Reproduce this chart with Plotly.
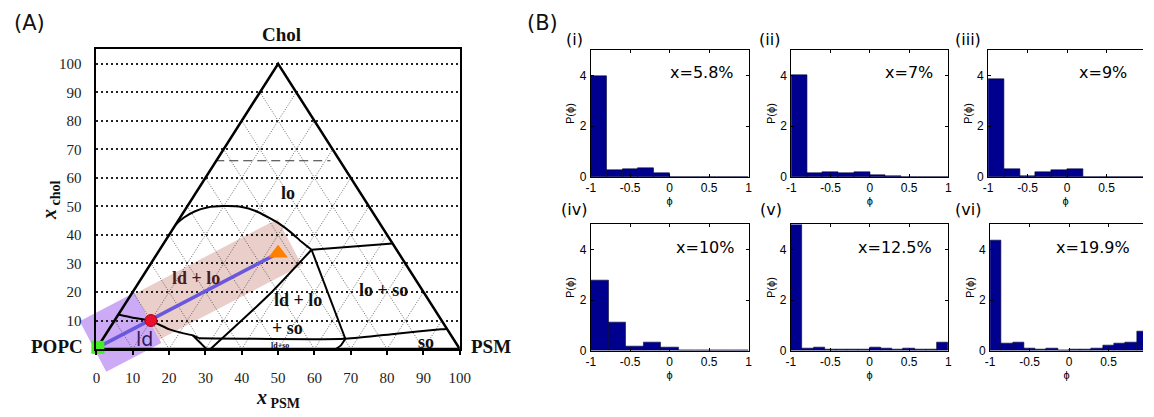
import numpy as np
import plotly.graph_objects as go

W, H = 1154, 417

# ---------------- (B) histogram data ----------------
panel_tags = ["(i)", "(ii)", "(iii)", "(iv)", "(v)", "(vi)"]
conc_labels = ["x=5.8%", "x=7%", "x=9%", "x=10%", "x=12.5%", "x=19.9%"]
bin_counts = [10, 10, 10, 9, 14, 14]
p_i = [3.98, 0.26, 0.30, 0.34, 0.17, 0, 0, 0, 0, 0]
p_ii = [4.03, 0.17, 0.21, 0.17, 0.20, 0.07, 0.04, 0, 0, 0]
p_iii = [3.84, 0.30, 0.03, 0.20, 0.26, 0.30, 0, 0, 0, 0]
p_iv = [2.77, 1.10, 0.17, 0.34, 0.13, 0, 0, 0, 0]
p_v = [5.40, 0.08, 0.12, 0.05, 0.05, 0.05, 0.06, 0.12, 0.08, 0.04, 0.08, 0.04, 0.06, 0.33]
p_vi = [4.36, 0.29, 0.33, 0.09, 0.04, 0.10, 0.01, 0.03, 0.04, 0.09, 0.22, 0.29, 0.33, 0.76]
hist_heights = [p_i, p_ii, p_iii, p_iv, p_v, p_vi]
phi_ticks = [-1, -0.5, 0, 0.5, 1]
phi_ticktext = ["-1", "-0.5", "0", "0.5", "1"]
prob_ticks = [0, 2, 4]
prob_range = [0, 5]

# ---------------- (A) phase diagram data ----------------
psm_ticks = [0, 10, 20, 30, 40, 50, 60, 70, 80, 90, 100]
chol_ticks = [10, 20, 30, 40, 50, 60, 70, 80, 90, 100]
grid_levels = [10, 20, 30, 40, 50, 60, 70, 80, 90]
tri_x = [0, 50, 100, 0]
tri_y = [0, 100, 0, 0]
dome_x = [21.8, 24.0, 27.0, 30.5, 35.0, 40.0, 44.0, 47.2, 50.5, 53.6, 56.5, 59.2]
dome_y = [43.6, 46.0, 48.2, 49.6, 50.1, 49.8, 48.3, 46.2, 43.8, 40.8, 37.5, 34.8]
loso_x = [59.2, 81.5]
loso_y = [34.8, 37.0]
mid_x = [59.2, 68.5]
mid_y = [34.8, 3.6]
diag_x = [59.2, 47.5, 31.4]
diag_y = [34.8, 19.0, 0.0]
ld_x = [6.05, 10.0, 15.0, 20.1, 24.0, 26.5, 28.2]
ld_y = [12.1, 11.0, 9.8, 6.9, 5.5, 4.8, 3.8]
so_x = [28.2, 68.5, 82.5, 94.8, 96.5]
so_y = [3.8, 3.6, 5.4, 6.9, 7.0]
ldso_x = [26.5, 30.3]
ldso_y = [4.8, 0.0]
so2_x = [68.5, 67.2, 65.8]
so2_y = [3.6, 1.2, 0.0]
dash_x = [32.7, 64.4]
dash_y = [66.0, 66.0]
popc_pt = [0.4, 0.6]
mix_pt = [15.0, 10.0]
lo_pt = [50.0, 33.6]
phase_labels = ["lo", "ld + lo", "ld + lo", "+ so", "lo + so", "so", "ld+so"]
phase_lx = [52.7, 27.3, 55.4, 52.7, 78.9, 90.7, 50.4]
phase_ly = [54.6, 24.8, 17.2, 7.5, 20.7, 2.3, 1.1]

# ---------------- geometry / layout helpers ----------------
TX0, TX1 = 92.7, 461.2     # ternary plot left/right px
TY0, TY1 = 355.0, 50.3     # ternary plot bottom/top px
XR, YR = [0, 100], [0, 105]
SX = (TX1 - TX0) / (XR[1] - XR[0])
SY = (TY0 - TY1) / (YR[1] - YR[0])


def px_x(v):
    return v / W


def px_y(v):
    return 1 - v / H


def data_to_px(x, y):
    return TX0 + x * SX, TY0 - y * SY


fig = go.Figure()


def band_path(a0, a1, b0, b1):
    ox, oy = data_to_px(*popc_pt)
    ex, ey = data_to_px(*lo_pt)
    dx, dy = ex - ox, ey - oy
    L = np.hypot(dx, dy)
    ux, uy = dx / L, dy / L
    vx, vy = -uy, ux
    pts = []
    for a, b in [(a0, b0), (a1, b0), (a1, b1), (a0, b1)]:
        X = ox + a * ux + b * vx
        Y = oy + a * uy + b * vy
        pts.append((px_x(X), px_y(Y)))
    return "M " + " L ".join(f"{p[0]:.5f},{p[1]:.5f}" for p in pts) + " Z"


shapes = [
    dict(type="path", xref="paper", yref="paper", layer="below",
         path=band_path(-4, 59, -32, 26), fillcolor="rgba(195,155,245,0.85)",
         line=dict(width=0)),
    dict(type="path", xref="paper", yref="paper", layer="below",
         path=band_path(59, 222, -31, 22), fillcolor="rgba(225,185,180,0.7)",
         line=dict(width=0)),
]

# ---- thin triangular grid ----
gx, gy = [], []
for a in grid_levels:
    gx += [a, 50 + a / 2, None, a, a / 2, None]
    gy += [0, 100 - a, None, 0, a, None]
fig.add_trace(go.Scatter(x=gx, y=gy, mode="lines", xaxis="x", yaxis="y",
                         line=dict(color="#444", width=0.8, dash="1px,1.6px"),
                         hoverinfo="skip"))
fig.add_trace(go.Scatter(x=dash_x, y=dash_y, mode="lines", xaxis="x", yaxis="y",
                         line=dict(color="#333", width=1.1, dash="9px,5px"),
                         hoverinfo="skip"))

# ---- triangle outline and phase boundaries ----
fig.add_trace(go.Scatter(x=tri_x, y=tri_y, mode="lines", xaxis="x", yaxis="y",
                         line=dict(color="black", width=2.5), hoverinfo="skip"))
for bx, by in [(dome_x, dome_y), (loso_x, loso_y), (mid_x, mid_y), (diag_x, diag_y),
               (ld_x, ld_y), (so_x, so_y), (ldso_x, ldso_y), (so2_x, so2_y)]:
    fig.add_trace(go.Scatter(x=bx, y=by, mode="lines", xaxis="x", yaxis="y",
                             line=dict(color="black", width=2, shape="spline",
                                       smoothing=0.6),
                             hoverinfo="skip"))

# ---- tie line and markers ----
fig.add_trace(go.Scatter(x=[popc_pt[0], lo_pt[0]], y=[popc_pt[1], lo_pt[1]],
                         mode="lines", xaxis="x", yaxis="y",
                         line=dict(color="#6a58dc", width=3.5), hoverinfo="skip"))
fig.add_trace(go.Scatter(x=[popc_pt[0]], y=[popc_pt[1]], mode="markers",
                         xaxis="x", yaxis="y", cliponaxis=False,
                         marker=dict(symbol="square", size=13, color="#44ee22")))
fig.add_trace(go.Scatter(x=[mix_pt[0]], y=[mix_pt[1]], mode="markers",
                         xaxis="x", yaxis="y", cliponaxis=False,
                         marker=dict(symbol="circle", size=12, color="#e8102a",
                                     line=dict(color="#b00020", width=1))))
fig.add_trace(go.Scatter(x=[lo_pt[0]], y=[lo_pt[1]], mode="markers",
                         xaxis="x", yaxis="y", cliponaxis=False,
                         marker=dict(symbol="triangle-up", size=17, color="#ff7f00")))

annotations = []
serif = "Liberation Serif, Times New Roman, serif"
sans = "Liberation Sans, Arial, sans-serif"
dvs = "DejaVu Sans, sans-serif"


def ann(x, y, text, font, xref="paper", yref="paper", xanchor="center", **kw):
    d = dict(x=x, y=y, xref=xref, yref=yref, text=text, showarrow=False,
             xanchor=xanchor, yanchor="middle", font=font)
    d.update(kw)
    annotations.append(d)


label_colors = ["#111", "#4a1c1c", "#111", "#111", "#111", "#111", "#111"]
label_sizes = [18, 18, 18, 18, 18, 18, 8]
for t, lx, ly, c, s in zip(phase_labels, phase_lx, phase_ly, label_colors, label_sizes):
    ann(lx, ly, f"<b>{t}</b>", dict(family=serif, size=s, color=c), xref="x", yref="y")
ann(13.3, 3.4, "ld", dict(family=dvs, size=19, color="#2a1a5a"), xref="x", yref="y")

ann(px_x(280), px_y(35), "<b>Chol</b>", dict(family=serif, size=19, color="#111"))
ann(px_x(81), px_y(352), "<b>POPC</b>", dict(family=serif, size=19, color="#111"),
    xanchor="right")
ann(px_x(471), px_y(352), "<b>PSM</b>", dict(family=serif, size=19, color="#111"),
    xanchor="left")
ann(px_x(277), px_y(405), "<b><i>x</i></b><b><sub> PSM</sub></b>",
    dict(family=serif, size=20, color="#111"))
ann(px_x(46), px_y(203), "<b><i>x</i></b><b><sub> chol</sub></b>",
    dict(family=serif, size=20, color="#111"), textangle=-90)
ann(px_x(25), px_y(23), "(A)", dict(family=dvs, size=21, color="#111"))
ann(px_x(545), px_y(23), "(B)", dict(family=dvs, size=21, color="#111"))

layout_axes = {}
layout_axes["xaxis"] = dict(domain=[px_x(TX0), px_x(TX1)], range=XR, anchor="y",
                            showline=True, mirror=True, linecolor="black", linewidth=1.8,
                            ticks="outside", ticklen=4, tickwidth=1.5, tickcolor="black",
                            tickvals=psm_ticks, ticklabelstandoff=10,
                            tickfont=dict(family=serif, size=15, color="#222"),
                            showgrid=False, zeroline=False, fixedrange=True)
layout_axes["yaxis"] = dict(domain=[px_y(TY0), px_y(TY1)], range=YR, anchor="x",
                            showline=True, mirror=True, linecolor="black", linewidth=1.8,
                            ticks="", tickvals=chol_ticks, ticklabelstandoff=10,
                            tickfont=dict(family=serif, size=15, color="#222"),
                            showgrid=True, gridcolor="#222", gridwidth=2,
                            griddash="2px,3px", zeroline=False, fixedrange=True)

# ---------------- histogram panels ----------------
col_left = [[594.0, 797.3, 997.0], [594.0, 797.0, 999.0]]
col_right = [754.0, 956.7, 1154.0]
row_bottom = [180.0, 356.7]
row_top = [51.0, 228.3]
conc_x = [0.846, 0.824, 0.779, 0.846, 0.816, 0.796]
tag_px = [(577, 40), (775, 40), (977, 40), (577, 213), (777, 213), (977, 213)]

for k in range(6):
    r, c = divmod(k, 3)
    n = k + 2
    left = col_left[r][c]
    right = col_right[c]
    full_w = 160.0
    xr_hi = -1 + 2 * (right - left) / full_w if c == 2 else 1
    edges = np.linspace(-1, 1, bin_counts[k] + 1)
    centers = (edges[:-1] + edges[1:]) / 2
    widths = np.diff(edges)
    fig.add_trace(go.Bar(x=centers, y=hist_heights[k], width=widths,
                         xaxis=f"x{n}", yaxis=f"y{n}",
                         marker=dict(color="#00008f", line=dict(color="#000030", width=0.6)),
                         hoverinfo="skip"))
    layout_axes[f"xaxis{n}"] = dict(
        domain=[px_x(left), px_x(right)], range=[-1, xr_hi], anchor=f"y{n}",
        showline=True, mirror="ticks", linecolor="black", linewidth=1,
        ticks="inside", ticklen=3, tickcolor="black",
        tickvals=phi_ticks, ticktext=phi_ticktext, ticklabelstandoff=0,
        tickfont=dict(family=sans, size=12, color="black"),
        title=dict(text="ϕ", font=dict(family=sans, size=11, color="black"), standoff=0),
        showgrid=False, zeroline=False, fixedrange=True)
    layout_axes[f"yaxis{n}"] = dict(
        domain=[px_y(row_bottom[r]), px_y(row_top[r])], range=prob_range,
        anchor=f"x{n}",
        showline=True, mirror=("ticks" if c < 2 else False), linecolor="black",
        linewidth=1, ticks="inside", ticklen=3, tickcolor="black",
        tickvals=prob_ticks, ticklabelstandoff=1,
        tickfont=dict(family=sans, size=12, color="black"),
        title=dict(text="P(ϕ)", font=dict(family=sans, size=11, color="black"),
                   standoff=2),
        showgrid=False, zeroline=False, fixedrange=True)
    ann(conc_x[k], 4.1, conc_labels[k], dict(family=dvs, size=16, color="black"),
        xref=f"x{n}", yref=f"y{n}", xanchor="right")
    ann(px_x(tag_px[k][0]), px_y(tag_px[k][1]), panel_tags[k],
        dict(family=dvs, size=16, color="black"))

fig.update_layout(
    width=W, height=H, margin=dict(l=0, r=0, t=0, b=0, pad=0), autosize=False,
    paper_bgcolor="white", plot_bgcolor="rgba(0,0,0,0)",
    showlegend=False, bargap=0, hovermode=False,
    shapes=shapes, annotations=annotations,
    **layout_axes,
)

fig.write_html("out.html", config={"responsive": False, "displayModeBar": False},
               post_script="document.body.style.margin='0';document.body.style.overflow='hidden';")
